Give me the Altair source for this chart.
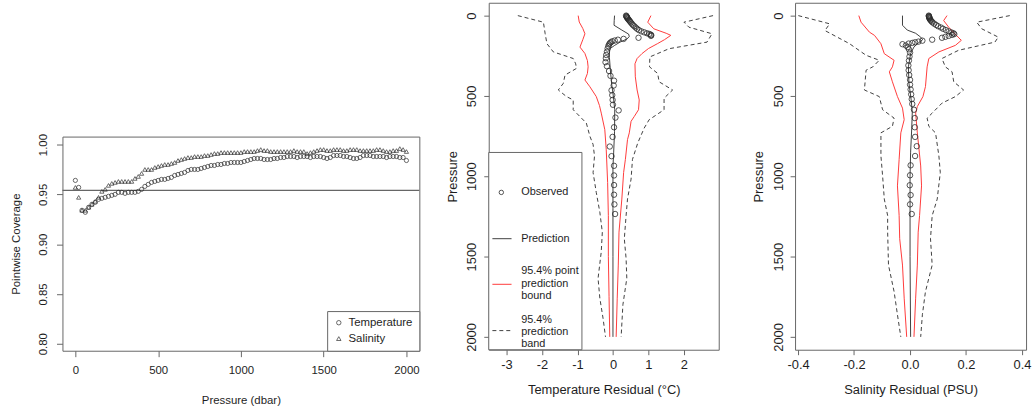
import altair as alt
import pandas as pd

FONT = "Liberation Sans"
INK = "#2b2b2b"
FRAME = "#666666"
RED = "#ff3b3b"
TXT = "#1e1e1e"

# ---------------- Panel 1: pointwise coverage ----------------
cov_pressure = [0, 20, 40, 60, 80, 100, 120, 140, 160, 180,
                200, 220, 240, 260, 280, 300, 320, 340, 360, 380,
                400, 420, 440, 460, 480, 500, 520, 540, 560, 580,
                600, 620, 640, 660, 680, 700, 720, 740, 760, 780,
                800, 820, 840, 860, 880, 900, 920, 940, 960, 980,
                1000, 1020, 1040, 1060, 1080, 1100, 1120, 1140, 1160, 1180,
                1200, 1220, 1240, 1260, 1280, 1300, 1320, 1340, 1360, 1380,
                1400, 1420, 1440, 1460, 1480, 1500, 1520, 1540, 1560, 1580,
                1600, 1620, 1640, 1660, 1680, 1700, 1720, 1740, 1760, 1780,
                1800, 1820, 1840, 1860, 1880, 1900, 1920, 1940, 1960, 1980,
                2000]
cov_temperature = [0.964, 0.957, 0.934, 0.932, 0.937, 0.940, 0.942, 0.945, 0.946, 0.947,
                   0.948, 0.949, 0.950, 0.952, 0.952, 0.951, 0.952, 0.952, 0.952, 0.953,
                   0.955, 0.958, 0.960, 0.962, 0.963, 0.964, 0.965, 0.965, 0.966, 0.967,
                   0.969, 0.970, 0.971, 0.972, 0.974, 0.975, 0.975, 0.975, 0.976, 0.977,
                   0.978, 0.979, 0.979, 0.980, 0.980, 0.981, 0.981, 0.982, 0.982, 0.982,
                   0.982, 0.983, 0.984, 0.985, 0.986, 0.986, 0.986, 0.985, 0.985, 0.985,
                   0.986, 0.986, 0.987, 0.987, 0.988, 0.988, 0.988, 0.987, 0.988, 0.988,
                   0.988, 0.987, 0.988, 0.988, 0.988, 0.987, 0.986, 0.987, 0.989, 0.989,
                   0.989, 0.988, 0.988, 0.987, 0.986, 0.986, 0.987, 0.989, 0.989, 0.989,
                   0.988, 0.988, 0.988, 0.988, 0.987, 0.988, 0.988, 0.988, 0.987, 0.987,
                   0.984]
cov_salinity = [0.957, 0.947, 0.934, 0.934, 0.937, 0.940, 0.943, 0.947, 0.953, 0.955,
                0.959, 0.961, 0.962, 0.963, 0.963, 0.963, 0.963, 0.963, 0.966, 0.968,
                0.971, 0.975, 0.975, 0.975, 0.977, 0.978, 0.979, 0.980, 0.980, 0.981,
                0.982, 0.984, 0.985, 0.986, 0.987, 0.987, 0.988, 0.988, 0.988, 0.989,
                0.989, 0.990, 0.991, 0.991, 0.992, 0.992, 0.992, 0.992, 0.992, 0.992,
                0.992, 0.993, 0.993, 0.993, 0.993, 0.994, 0.995, 0.994, 0.994, 0.993,
                0.993, 0.993, 0.993, 0.993, 0.993, 0.993, 0.994, 0.993, 0.993, 0.993,
                0.991, 0.992, 0.993, 0.994, 0.995, 0.995, 0.994, 0.994, 0.995, 0.995,
                0.995, 0.994, 0.994, 0.995, 0.995, 0.995, 0.994, 0.994, 0.994, 0.994,
                0.994, 0.995, 0.995, 0.994, 0.993, 0.993, 0.994, 0.994, 0.996, 0.995,
                0.993]
nominal_level = 0.954
cov_series = ["Temperature", "Salinity"]

# ---------------- Panel 2: temperature residual profile ----------------
t_obs_p = [0, 3, 6, 9, 12, 16, 20, 25, 30, 36, 42, 50, 58, 66, 74, 82, 90, 98, 104, 110,
           114, 118, 122, 126, 138, 145, 150, 155, 160, 166, 172, 180, 190, 205, 225, 245, 265, 290, 315, 345,
           375, 405, 435, 465, 495, 525, 555, 590, 635, 695, 755, 815, 875, 935, 995, 1055, 1115, 1175, 1235]
t_obs_v = [0.37, 0.38, 0.38, 0.39, 0.40, 0.41, 0.42, 0.44, 0.46, 0.48, 0.50, 0.53, 0.56, 0.60, 0.64, 0.68, 0.73, 0.80, 0.88, 0.96,
           1.02, 1.06, 1.08, 1.07, 0.72, 0.30, 0.14, 0.05, -0.02, -0.06, -0.09, -0.11, -0.13, -0.15, -0.17, -0.19, -0.20, -0.21, -0.17, -0.11,
           -0.07, 0.03, 0.02, -0.04, -0.02, -0.01, 0.0, 0.16, 0.07, 0.03, -0.01, -0.09, -0.04, 0.03, 0.03, 0.03, 0.03, 0.04, 0.06]
t_pred_p = [0, 30, 60, 90, 115, 130, 145, 165, 185, 205, 225, 260, 320, 420, 500, 586, 720, 850, 940, 1200, 1500, 2000]
t_pred_v = [0.045, 0.035, 0.03, 0.25, 0.44, 0.46, 0.40, 0.20, 0.05, -0.08, -0.10, -0.10, -0.08, -0.04, 0.01, 0.05, 0.045, 0.02, 0.0, 0.0, 0.0, 0.0]
t_lo_p = [0, 40, 80, 113, 150, 196, 236, 280, 319, 360, 401, 443, 504, 560, 607, 710, 833, 1039, 1245, 1500, 1750, 2000]
t_lo_v = [-0.98, -0.95, -0.85, -0.79, -0.85, -0.93, -0.79, -0.72, -0.70, -0.72, -0.79, -0.65, -0.47, -0.38, -0.33, -0.23, -0.19, -0.15, -0.13, -0.13, -0.11, -0.09]
t_hi_p = [0, 41, 82, 110, 123, 150, 175, 205, 236, 267, 300, 381, 463, 525, 586, 628, 658, 730, 772, 895, 977, 1142, 1348, 1553, 1759, 2000]
t_hi_v = [1.07, 0.98, 1.15, 1.50, 1.63, 1.45, 1.25, 1.00, 0.82, 0.68, 0.62, 0.63, 0.68, 0.74, 0.72, 0.60, 0.51, 0.46, 0.41, 0.35, 0.30, 0.25, 0.17, 0.15, 0.12, 0.09]
t_blo_p = [0, 41, 113, 175, 226, 267, 300, 329, 370, 422, 463, 504, 525, 586, 669, 751, 802, 874, 977, 1101, 1224, 1348, 1471, 1636, 1759, 1883, 2000]
t_blo_v = [-2.68, -1.96, -1.91, -1.86, -1.68, -1.12, -1.05, -1.03, -1.35, -1.40, -1.54, -1.31, -1.12, -1.12, -0.75, -0.65, -0.56, -0.52, -0.56, -0.47, -0.37, -0.30, -0.33, -0.42, -0.37, -0.28, -0.21]
t_bhi_p = [0, 41, 72, 113, 165, 206, 257, 319, 360, 412, 463, 514, 586, 648, 700, 792, 895, 1018, 1142, 1245, 1389, 1512, 1636, 1800, 2000]
t_bhi_v = [2.82, 2.00, 2.14, 2.79, 2.65, 1.58, 1.04, 1.03, 1.26, 1.30, 1.68, 1.44, 1.44, 1.02, 0.88, 0.70, 0.55, 0.51, 0.41, 0.37, 0.32, 0.37, 0.39, 0.28, 0.23]

# ---------------- Panel 3: salinity residual profile ----------------
s_obs_p = [0, 3, 6, 9, 12, 16, 20, 25, 30, 36, 42, 50, 58, 66, 74, 82, 90, 98, 105, 110,
           115, 120, 126, 132, 138, 150, 156, 162, 166, 170, 174, 178, 186, 196, 210, 230, 255, 280, 310, 340,
           370, 400, 430, 460, 490, 520, 550, 586, 638, 695, 755, 813, 874, 932, 994, 1056, 1117, 1175, 1235]
s_obs_v = [0.067, 0.067, 0.068, 0.068, 0.069, 0.069, 0.070, 0.072, 0.074, 0.077, 0.080, 0.086, 0.093, 0.100, 0.110, 0.118, 0.128, 0.138, 0.148, 0.155,
           0.158, 0.150, 0.138, 0.126, 0.114, 0.079, 0.044, 0.030, 0.018, 0.008, -0.005, -0.027, -0.015, -0.008, -0.004, 0.0, -0.002, -0.004, -0.006, -0.005,
           -0.003, 0.0, 0.0, 0.002, 0.004, 0.006, 0.008, 0.014, 0.017, 0.017, 0.018, 0.024, 0.018, 0.002, 0.0, -0.001, 0.002, 0.0, 0.006]
s_pred_p = [0, 60, 90, 110, 134, 150, 170, 195, 237, 319, 420, 525, 600, 700, 850, 1000, 1500, 2000]
s_pred_v = [-0.027, -0.027, -0.01, 0.02, 0.038, 0.045, 0.03, 0.014, 0.002, -0.006, -0.004, 0.004, 0.008, 0.006, 0.002, 0.0, 0.0, 0.002]
s_lo_p = [0, 41, 103, 123, 175, 237, 278, 319, 350, 412, 504, 576, 648, 730, 895, 1060, 1245, 1389, 1553, 1759, 2000]
s_lo_v = [-0.183, -0.175, -0.145, -0.127, -0.104, -0.092, -0.057, -0.063, -0.074, -0.063, -0.045, -0.027, -0.021, -0.033, -0.039, -0.045, -0.039, -0.037, -0.027, -0.021, -0.012]
s_hi_p = [0, 31, 72, 113, 154, 185, 226, 267, 319, 442, 504, 566, 607, 730, 936, 1060, 1245, 1348, 1553, 1759, 2000]
s_hi_v = [0.132, 0.120, 0.138, 0.160, 0.183, 0.162, 0.103, 0.067, 0.061, 0.055, 0.046, 0.026, 0.020, 0.026, 0.038, 0.041, 0.034, 0.029, 0.026, 0.020, 0.014]
s_blo_p = [0, 51, 93, 175, 247, 278, 319, 340, 463, 504, 586, 638, 689, 730, 874, 998, 1142, 1245, 1348, 1553, 1718, 1862, 2000]
s_blo_v = [-0.399, -0.287, -0.304, -0.216, -0.157, -0.110, -0.133, -0.157, -0.163, -0.110, -0.098, -0.057, -0.063, -0.104, -0.104, -0.098, -0.092, -0.080, -0.080, -0.077, -0.057, -0.045, -0.033]
s_bhi_p = [0, 41, 82, 134, 165, 216, 267, 319, 350, 412, 463, 504, 545, 607, 638, 689, 730, 874, 977, 1142, 1245, 1389, 1553, 1718, 1862, 2000]
s_bhi_v = [0.356, 0.238, 0.256, 0.315, 0.303, 0.173, 0.114, 0.126, 0.150, 0.156, 0.191, 0.162, 0.114, 0.079, 0.061, 0.067, 0.091, 0.103, 0.108, 0.097, 0.079, 0.073, 0.079, 0.055, 0.044, 0.038]

legend_labels = ["Observed", "Prediction", ["95.4% point", "prediction", "bound"], ["95.4%", "prediction", "band"]]


def lines_df(parts):
    rows = []
    for name, ps, vs in parts:
        for p, v in zip(ps, vs):
            rows.append({"side": name, "Pressure": p, "Residual": v})
    return pd.DataFrame(rows)


# ---- panel 1 chart ----
cov_df = pd.DataFrame({
    "Pressure": cov_pressure + cov_pressure,
    "Coverage": cov_temperature + cov_salinity,
    "Variable": [cov_series[0]] * len(cov_pressure) + [cov_series[1]] * len(cov_pressure),
})

x1 = alt.X("Pressure:Q", scale=alt.Scale(domain=[-78, 2078], nice=False, zero=False),
           axis=alt.Axis(values=[0, 500, 1000, 1500, 2000], format="d", title="Pressure (dbar)", domain=False,
                         grid=False, tickColor=FRAME, tickSize=6, labelFont=FONT, labelFontSize=11.5,
                         labelColor=TXT, labelPadding=8, titleFont=FONT, titleFontSize=11.5,
                         titleFontWeight="normal", titleColor=TXT, titlePadding=19))
y1 = alt.Y("Coverage:Q", scale=alt.Scale(domain=[0.793, 1.008], nice=False, zero=False),
           axis=alt.Axis(values=[0.8, 0.85, 0.9, 0.95, 1.0], format=".2f", title="Pointwise Coverage",
                         domain=False, grid=False, tickColor=FRAME, tickSize=6, labelAngle=270,
                         labelAlign="center", labelBaseline="bottom", labelFont=FONT, labelFontSize=11.5,
                         labelColor=TXT, labelPadding=8, titleFont=FONT, titleFontSize=11.5,
                         titleFontWeight="normal", titleColor=TXT, titlePadding=16))

cov_pts = alt.Chart(cov_df).mark_point(filled=False, size=18, strokeWidth=0.7, color=INK, opacity=1).encode(
    x=x1, y=y1,
    shape=alt.Shape("Variable:N", scale=alt.Scale(domain=cov_series, range=["circle", "triangle-up"]),
                    legend=alt.Legend(title=None, orient="bottom-right", offset=0, strokeColor=FRAME,
                                      fillColor="white", padding=6, symbolSize=20, symbolStrokeWidth=0.7,
                                      symbolStrokeColor=INK, labelFont=FONT, labelFontSize=11.5,
                                      labelColor=TXT, rowPadding=3, labelOffset=4)),
)
cov_rule = alt.Chart(pd.DataFrame({"k": [0]})).mark_rule(color=FRAME, strokeWidth=1.2).encode(
    y=alt.datum(nominal_level))
panel1 = alt.layer(cov_rule, cov_pts).properties(width=360, height=216)

spacer = alt.Chart(pd.DataFrame({"k": [0]})).mark_point(opacity=0).encode(
    x=alt.X("k:Q", axis=None), y=alt.Y("k:Q", axis=None)
).properties(width=360, height=131, view=alt.ViewBackground(stroke=None))


def profile_panel(obs_p, obs_v, pred_p, pred_v, lo_p, lo_v, hi_p, hi_v, blo_p, blo_v, bhi_p, bhi_v,
                  xdomain, xvalues, xfmt, xtitle, with_legend):
    xs = alt.X("Residual:Q", scale=alt.Scale(domain=xdomain, nice=False, zero=False),
               axis=alt.Axis(values=xvalues, format=xfmt, title=xtitle, domain=False, grid=False,
                             tickColor=FRAME, tickSize=5, labelFont=FONT, labelFontSize=13, labelColor=TXT,
                             labelPadding=4, labelExpr="replace(datum.label, '\u2212', '-')",
                             titleFont=FONT, titleFontSize=13, titleFontWeight="normal", titleColor=TXT,
                             titlePadding=12))
    ys = alt.Y("Pressure:Q", scale=alt.Scale(domain=[-80, 2080], reverse=True, nice=False, zero=False),
               axis=alt.Axis(values=[0, 500, 1000, 1500, 2000], format="d", title="Pressure", domain=False,
                             grid=False, tickColor=FRAME, tickSize=5, labelAngle=270, labelAlign="center",
                             labelBaseline="bottom", labelFont=FONT, labelFontSize=13, labelColor=TXT,
                             labelPadding=5, titleFont=FONT, titleFontSize=13, titleFontWeight="normal",
                             titleColor=TXT, titlePadding=7))
    band = alt.Chart(lines_df([("lo", blo_p, blo_v), ("hi", bhi_p, bhi_v)])).mark_line(
        color=INK, strokeWidth=0.9, strokeDash=[4, 3]).encode(
        x=xs, y=ys, detail="side:N", order="Pressure:Q")
    bound = alt.Chart(lines_df([("lo", lo_p, lo_v), ("hi", hi_p, hi_v)])).mark_line(
        color=RED, strokeWidth=1).encode(x=xs, y=ys, detail="side:N", order="Pressure:Q")
    pred = alt.Chart(lines_df([("pred", pred_p, pred_v)])).mark_line(
        color=INK, strokeWidth=0.9).encode(x=xs, y=ys, order="Pressure:Q")
    obs = alt.Chart(pd.DataFrame({"Pressure": obs_p, "Residual": obs_v})).mark_point(
        shape="circle", filled=False, size=30, strokeWidth=0.8, color=INK, opacity=1).encode(x=xs, y=ys)
    layers = [band, bound, pred, obs]
    if with_legend:
        one = pd.DataFrame({"k": [0]})
        base = alt.Chart(one)
        txt = dict(align="left", baseline="middle", font=FONT, fontSize=11, color=TXT)
        layers += [
            base.mark_rect(fill="white", stroke=FRAME, strokeWidth=1).encode(
                x=alt.value(0), x2=alt.value(94), y=alt.value(151), y2=alt.value(350)),
            base.mark_point(shape="circle", filled=False, size=20, strokeWidth=0.8, color=INK, opacity=1).encode(
                x=alt.value(12.7), y=alt.value(191.3)),
            base.mark_text(**txt).encode(x=alt.value(32.7), y=alt.value(191.3), text=alt.value(legend_labels[0])),
            base.mark_rule(color=INK, strokeWidth=0.9).encode(
                x=alt.value(3.7), x2=alt.value(23), y=alt.value(238)),
            base.mark_text(**txt).encode(x=alt.value(32.7), y=alt.value(238), text=alt.value(legend_labels[1])),
            base.mark_rule(color=RED, stroke=RED, strokeWidth=1).encode(
                x=alt.value(3.7), x2=alt.value(23), y=alt.value(284)),
            base.mark_rule(color=INK, strokeWidth=0.9, strokeDash=[4, 3]).encode(
                x=alt.value(3.7), x2=alt.value(23), y=alt.value(330.7)),
        ]
        for i, line in enumerate(legend_labels[2]):
            layers.append(base.mark_text(**txt).encode(
                x=alt.value(32.7), y=alt.value(270.7 + 12.8 * i), text=alt.value(line)))
        for i, line in enumerate(legend_labels[3]):
            layers.append(base.mark_text(**txt).encode(
                x=alt.value(32.7), y=alt.value(319.7 + 12.2 * i), text=alt.value(line)))
    return alt.layer(*layers)


panel2 = profile_panel(t_obs_p, t_obs_v, t_pred_p, t_pred_v, t_lo_p, t_lo_v, t_hi_p, t_hi_v,
                       t_blo_p, t_blo_v, t_bhi_p, t_bhi_v,
                       [-3.5, 2.98], [-3, -2, -1, 0, 1, 2], "d", "Temperature Residual (°C)", True
                       ).properties(width=232, height=350)
panel3 = profile_panel(s_obs_p, s_obs_v, s_pred_p, s_pred_v, s_lo_p, s_lo_v, s_hi_p, s_hi_v,
                       s_blo_p, s_blo_v, s_bhi_p, s_bhi_v,
                       [-0.4106, 0.4142], [-0.4, -0.2, 0.0, 0.2, 0.4], ".1f", "Salinity Residual (PSU)", False
                       ).properties(width=233, height=350)

left_col = alt.vconcat(spacer, panel1, spacing=0).resolve_legend(shape="independent")
right_pair = alt.hconcat(panel2, panel3, spacing=32).resolve_legend(shape="independent")

chart = alt.hconcat(
    left_col,
    right_pair,
    spacing=24,
).resolve_legend(shape="independent").properties(
    padding={"left": 10, "top": 0, "right": 0, "bottom": 0},
    background="white",
).configure_view(stroke=FRAME, strokeWidth=1)

chart.save("out.html", embed_options={"renderer": "svg", "actions": False})
